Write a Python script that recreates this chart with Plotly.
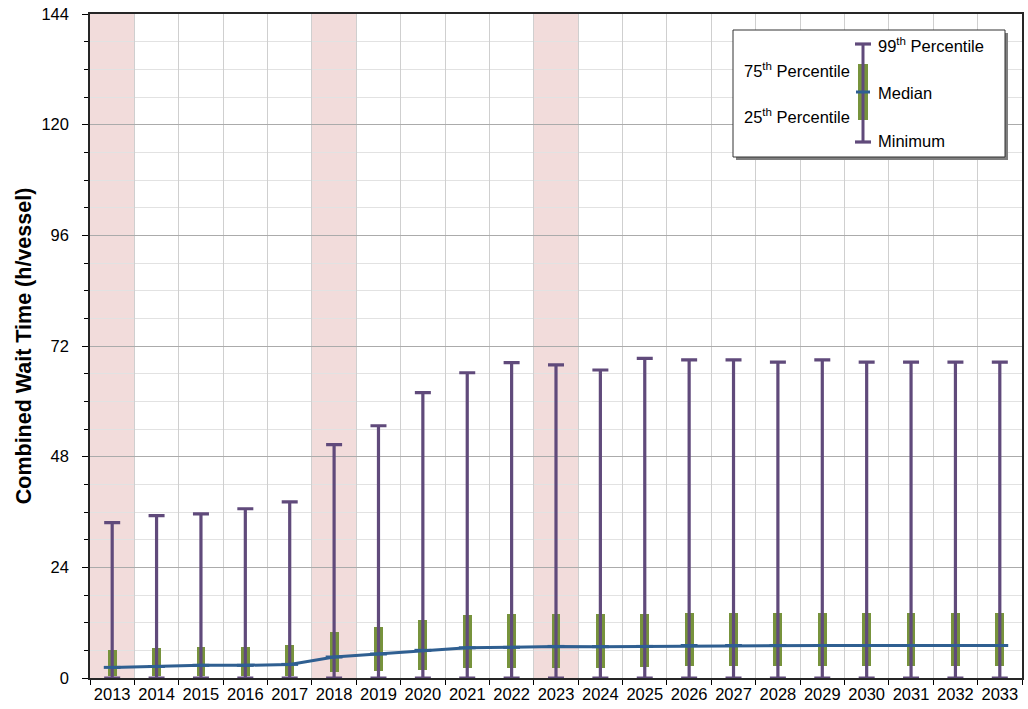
import plotly.graph_objects as go

# Simulated combined wait time distribution per year (h/vessel)
years = [str(y) for y in range(2013, 2034)]
minimum = [0, 0, 0, 0, 0, 0, 0, 0, 0, 0, 0, 0, 0, 0, 0, 0, 0, 0, 0, 0, 0]
p25 = [0.4, 0.4, 0.4, 0.4, 0.4, 1.2, 1.5, 1.7, 2.1, 2.2, 2.2, 2.2, 2.3, 2.5, 2.5, 2.5, 2.5, 2.5, 2.5, 2.5, 2.5]
median = [2.3, 2.5, 2.75, 2.75, 2.95, 4.55, 5.2, 6.0, 6.55, 6.65, 6.85, 6.8, 6.85, 7.05, 7.05, 7.05, 7.05, 7.05, 7.05, 7.05, 7.05]
p75 = [6.1, 6.5, 6.7, 6.8, 7.2, 10.0, 11.1, 12.5, 13.7, 13.8, 13.9, 13.8, 13.9, 14.1, 14.2, 14.2, 14.2, 14.2, 14.2, 14.2, 14.2]
p99 = [33.7, 35.2, 35.6, 36.7, 38.2, 50.6, 54.7, 61.9, 66.2, 68.4, 67.9, 66.8, 69.3, 69.0, 69.0, 68.5, 69.0, 68.5, 68.5, 68.5, 68.5]
highlight_years = ["2013", "2018", "2023"]
y_ticks = [0, 24, 48, 72, 96, 120, 144]

PURPLE = "#604a7b"
GREEN = "#77933c"
BLUE = "#2f5f91"
PINK = "#f2dcdb"
FONT = "Liberation Sans, Arial, sans-serif"

W, H = 1028, 709
ML, MR, MT, MB = 90, 6, 14, 31

fig = go.Figure()

# interquartile boxes
fig.add_trace(go.Bar(
    x=years,
    y=[hi - lo for hi, lo in zip(p75, p25)],
    base=p25,
    width=0.2,
    marker=dict(color=GREEN, line=dict(width=0)),
    showlegend=False,
))

# whiskers from minimum to 99th percentile, with caps at both ends
fig.add_trace(go.Scatter(
    x=years,
    y=minimum,
    mode="markers",
    marker=dict(size=1, color="rgba(0,0,0,0)"),
    error_y=dict(
        type="data",
        symmetric=False,
        array=[hi - lo for hi, lo in zip(p99, minimum)],
        arrayminus=[0] * len(years),
        color=PURPLE,
        thickness=3.2,
        width=8,
    ),
    cliponaxis=False,
    showlegend=False,
))

# median line
fig.add_trace(go.Scatter(
    x=years,
    y=median,
    mode="lines+markers",
    line=dict(color=BLUE, width=3),
    marker=dict(symbol="line-ew", size=12, line=dict(color=BLUE, width=3)),
    showlegend=False,
))

# shaded years
shapes = []
for yr in highlight_years:
    i = years.index(yr)
    shapes.append(dict(
        type="rect", xref="x", yref="paper",
        x0=i - 0.5, x1=i + 0.5, y0=0, y1=1,
        fillcolor=PINK, line=dict(width=0), layer="below",
    ))

# key box drawn in plot-area pixel space
pw, ph = W - ML - MR, H - MT - MB


def px(x):
    return (x - ML) / pw


def py(y):
    return (H - MB - y) / ph


shapes.append(dict(type="rect", xref="paper", yref="paper",
                   x0=px(736), x1=px(1008), y0=py(160), y1=py(33),
                   fillcolor="#7f7f7f", line=dict(width=0), layer="above"))
shapes.append(dict(type="rect", xref="paper", yref="paper",
                   x0=px(733), x1=px(1005), y0=py(157), y1=py(30),
                   fillcolor="white", line=dict(color="#333333", width=1), layer="above"))
kx = 863
shapes.append(dict(type="line", xref="paper", yref="paper",
                   x0=px(kx), x1=px(kx), y0=py(142), y1=py(44),
                   line=dict(color=PURPLE, width=3), layer="above"))
for cy in (44, 142):
    shapes.append(dict(type="line", xref="paper", yref="paper",
                       x0=px(kx - 8), x1=px(kx + 8), y0=py(cy), y1=py(cy),
                       line=dict(color=PURPLE, width=3.2), layer="above"))
shapes.append(dict(type="rect", xref="paper", yref="paper",
                   x0=px(kx - 5), x1=px(kx + 5), y0=py(120), y1=py(64),
                   fillcolor=GREEN, line=dict(width=0), layer="above"))
shapes.append(dict(type="line", xref="paper", yref="paper",
                   x0=px(kx), x1=px(kx), y0=py(120), y1=py(64),
                   line=dict(color=PURPLE, width=3), layer="above"))
shapes.append(dict(type="line", xref="paper", yref="paper",
                   x0=px(kx - 7), x1=px(kx + 7), y0=py(92), y1=py(92),
                   line=dict(color=BLUE, width=3), layer="above"))

annotations = []
key_labels = [
    ("99<sup>th</sup> Percentile", 876, 45, "left"),
    ("Median", 876, 93, "left"),
    ("Minimum", 876, 141, "left"),
    ("75<sup>th</sup> Percentile", 852, 70, "right"),
    ("25<sup>th</sup> Percentile", 852, 116, "right"),
]
for text, x, y, anchor in key_labels:
    annotations.append(dict(
        text=text, xref="paper", yref="paper", x=px(x), y=py(y),
        xanchor=anchor, yanchor="middle", showarrow=False,
        font=dict(family=FONT, size=16.5, color="black"),
    ))

fig.update_layout(
    width=W, height=H,
    margin=dict(l=ML, r=MR, t=MT, b=MB),
    paper_bgcolor="white",
    plot_bgcolor="white",
    barmode="overlay",
    bargap=0,
    shapes=shapes,
    annotations=annotations,
    font=dict(family=FONT, size=16.5, color="black"),
    xaxis=dict(
        type="category",
        categoryorder="array",
        categoryarray=years,
        tickson="boundaries",
        ticks="outside",
        ticklen=5,
        tickcolor="black",
        tickangle=0,
        automargin=False,
        showgrid=True,
        gridcolor="#cfcfcf",
        gridwidth=1,
        showline=True,
        linecolor="#262626",
        linewidth=1.5,
        mirror=True,
        tickfont=dict(size=16.5),
        range=[-0.5, len(years) - 0.5],
    ),
    yaxis=dict(
        range=[0, 144],
        tickvals=y_ticks,
        ticks="outside",
        ticklen=6,
        tickcolor="black",
        ticklabelstandoff=10,
        automargin=False,
        showgrid=True,
        gridcolor="#ababab",
        gridwidth=1,
        showline=True,
        linecolor="#262626",
        linewidth=1.5,
        mirror=True,
        zeroline=False,
        tickfont=dict(size=16.5),
        title=dict(text="<b>Combined Wait Time (h/vessel)</b>",
                   font=dict(size=21.5), standoff=4),
        minor=dict(dtick=6, showgrid=True, gridcolor="#e2e2e2",
                   ticks="outside", ticklen=4, tickcolor="black"),
    ),
)

fig.write_html("out.html")
